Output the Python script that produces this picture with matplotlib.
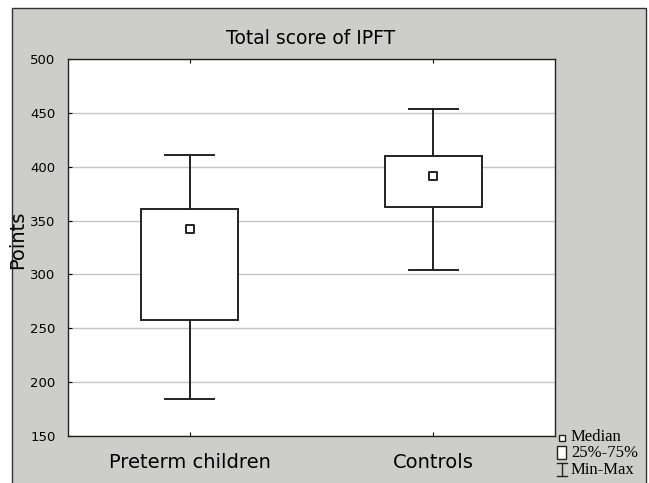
import matplotlib
matplotlib.use("Agg")
import matplotlib.pyplot as plt
from matplotlib.patches import Rectangle
from matplotlib.lines import Line2D

categories = ["Preterm children", "Controls"]
medians = [342, 391]
q1 = [258, 363]
q3 = [361, 410]
mins = [184, 304]
maxs = [411, 454]
yticks = [150, 200, 250, 300, 350, 400, 450, 500]

W, H = 649, 483
fig = plt.figure(figsize=(W/100, H/100), dpi=100)
fig.patch.set_facecolor("white")
gray = "#cdcecc"
frame = Rectangle((12/W, -0.05), (646-12)/W, 1 + 0.05 - 8/H, transform=fig.transFigure,
                  facecolor=gray, edgecolor="#333333", linewidth=1.0, zorder=-10)
fig.patches.append(frame)

ax = fig.add_axes([68/W, (H-436)/H, (555-68)/W, (436-59)/H])
ax.set_facecolor("white")

stats = []
for i, c in enumerate(categories):
    stats.append(dict(med=medians[i], q1=q1[i], q3=q3[i], whislo=mins[i], whishi=maxs[i],
                      fliers=[], label=c))
ax.bxp(stats, positions=[0, 1], widths=0.40, showfliers=False, patch_artist=True,
       boxprops=dict(facecolor="white", edgecolor="#222222", linewidth=1.4),
       whiskerprops=dict(color="#222222", linewidth=1.4),
       capprops=dict(color="#222222", linewidth=1.4),
       capwidths=0.2,
       medianprops=dict(linewidth=0), zorder=3)
ax.scatter([0, 1], medians, marker="s", s=26, facecolor="white", edgecolor="#222222",
           linewidth=1.4, zorder=5)

ax.set_xlim(-0.5, 1.5)
ax.set_ylim(150, 500)
ax.set_yticks(yticks)
ax.yaxis.grid(True, color="#c4c4c4", linewidth=1.0, zorder=0)
ax.set_axisbelow(True)
ax.tick_params(axis="y", direction="in", length=3, labelsize=9.5, pad=9)
ax.tick_params(axis="x", direction="in", length=3, labelsize=14, pad=12, top=True)
ax.set_xticks([0, 1])
ax.set_xticklabels(categories)
for s in ax.spines.values():
    s.set_color("#222222")
    s.set_linewidth(1.0)

ax.set_ylabel("Points", fontsize=14)
ax.yaxis.set_label_coords(-0.083, 0.52)
fig.text(311/W, 1 - 38/H, "Total score of IPFT", ha="center", va="center", fontsize=13.5)

# legend
serif = "Liberation Serif"
lx = 562
items = [("Median", 437), ("25%-75%", 453), ("Min-Max", 470)]
for t, y in items:
    fig.text((lx+9)/W, 1 - y/H, t, ha="left", va="center", fontsize=12, family=serif)
fig.add_artist(Line2D([lx/W], [1-438/H], marker="s", markersize=5, markerfacecolor="white",
                      markeredgecolor="#222222", markeredgewidth=1.0, transform=fig.transFigure))
fig.patches.append(Rectangle(((lx-5)/W, 1-459/H), 9/W, 13/H, transform=fig.transFigure,
                             facecolor="white", edgecolor="#222222", linewidth=1.0))
fig.add_artist(Line2D([lx/W, lx/W], [1-463/H, 1-476/H], color="#222222", lw=1.0, transform=fig.transFigure))
fig.add_artist(Line2D([(lx-5)/W, (lx+5)/W], [1-463/H, 1-463/H], color="#222222", lw=1.0, transform=fig.transFigure))
fig.add_artist(Line2D([(lx-5)/W, (lx+5)/W], [1-476/H, 1-476/H], color="#222222", lw=1.0, transform=fig.transFigure))

fig.savefig("out.png", dpi=100, facecolor=fig.get_facecolor())
